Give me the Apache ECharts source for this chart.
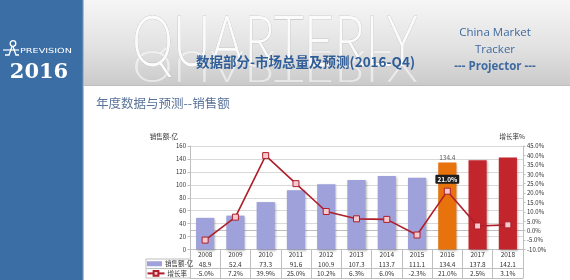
<!DOCTYPE html>
<html>
<head>
<meta charset="utf-8">
<script src="https://cdn.jsdelivr.net/npm/echarts@6/dist/echarts.min.js"></script>
<style>
  html, body { margin: 0; padding: 0; background: #ffffff; }
  #c { width: 570px; height: 280px; }
</style>
</head>
<body>
<div id="c"></div>
<script>
// Annual market size (亿) and year-on-year growth (%), 2016 actual, 2017-2018 forecast
const years = ['2008', '2009', '2010', '2011', '2012', '2013', '2014', '2015', '2016', '2017', '2018'];
const sales = [48.9, 52.4, 73.3, 91.6, 100.9, 107.3, 113.7, 111.1, 134.4, 137.8, 142.1];
const growth = [-5.0, 7.2, 39.9, 25.0, 10.2, 6.3, 6.0, -2.3, 21.0, 2.5, 3.1];
const currentYear = '2016';

const salesName = '销售额-亿';
const growthName = '增长率';

const COL_HIST = '#9ea1da';
const COL_CUR = '#e8720c';
const COL_FCST = '#c3252d';
const LINE_COL = '#ae1f2b';
const GRID_COL = '#d9d9d9';
const AXIS_COL = '#bfbfbf';
const FONT = '"Noto Sans CJK SC", "Noto Sans", sans-serif';
const WORD_FONT = 'Lato, "Open Sans", sans-serif';

const curIdx = years.indexOf(currentYear);

const barData = sales.map((v, i) => {
  const item = { value: v };
  if (i === curIdx) {
    item.itemStyle = { color: COL_CUR };
    item.label = { show: true, position: 'top', distance: 2, fontSize: 6.5, color: '#595959',
      formatter: p => p.value.toFixed(1) };
  } else if (i > curIdx) {
    item.itemStyle = { color: COL_FCST };
  }
  return item;
});

const lineData = growth.map((v, i) => {
  const item = { value: v };
  if (i === curIdx) {
    item.label = { show: true, position: 'top', distance: 4, fontSize: 6.5, fontWeight: 'bold',
      color: '#ffffff', backgroundColor: '#1e1e1e', padding: [1.5, 2, 1, 2], borderRadius: 1,
      formatter: p => p.value.toFixed(1) + '%' };
  }
  return item;
});

const G = { left: 190, right: 47, top: 146, bottom: 30.5 };
const gridBottomY = 280 - G.bottom;
const rowH = 9.5;

// header word geometry
const WORD_SIZE = 71;
const WORD_SX = 0.73;
const REFL_S = 0.6;
const CAP_TOP = 7;        // cap top below the text box top
const CAP_BASE = 48.5;    // baseline below the text box top

const chart = echarts.init(document.getElementById('c'), null, { renderer: 'canvas' });

function tableAxis(offset, values, showLabel) {
  return {
    type: 'category', data: years, position: 'bottom', offset: offset,
    axisLine: { show: true, lineStyle: { color: AXIS_COL, width: 1 } },
    axisTick: { show: false },
    axisLabel: showLabel ? {
      show: true, margin: 2.2, fontSize: 6.5, color: '#333', fontFamily: FONT,
      formatter: (v, i) => values[i]
    } : { show: false },
    splitLine: { show: false }
  };
}

const option = {
  animation: false,
  backgroundColor: '#ffffff',
  textStyle: { fontFamily: FONT },
  grid: { left: G.left, right: G.right, top: G.top, bottom: G.bottom, containLabel: false },
  legend: [
    {
      data: [{ name: salesName, icon: 'rect' }], left: 147, top: gridBottomY + rowH + 1.5,
      itemWidth: 15, itemHeight: 5, itemGap: 2, padding: 0,
      textStyle: { fontSize: 6.5, color: '#333', padding: [0, 0, 0, -2] }
    },
    {
      data: [growthName], left: 146.5, top: gridBottomY + rowH * 2 + 1.5,
      itemWidth: 17, itemHeight: 6, itemGap: 2, padding: 0,
      textStyle: { fontSize: 6.5, color: '#333', padding: [0, 0, 0, -2] }
    }
  ],
  xAxis: [
    {
      type: 'category', data: years, position: 'bottom',
      axisLine: { show: true, lineStyle: { color: AXIS_COL, width: 1 } },
      axisTick: { show: true, alignWithLabel: false, length: rowH * 3, lineStyle: { color: AXIS_COL } },
      axisLabel: { margin: 2.2, fontSize: 6.5, color: '#333' },
      splitLine: { show: false }
    },
    tableAxis(rowH, sales.map(v => v.toFixed(1)), true),
    tableAxis(rowH * 2, growth.map(v => v.toFixed(1) + '%'), true),
    tableAxis(rowH * 3, null, false)
  ],
  yAxis: [
    {
      type: 'value', min: 0, max: 160, interval: 20, position: 'left',
      name: salesName, nameLocation: 'end', nameGap: 6,
      nameTextStyle: { fontSize: 6.5, color: '#333', align: 'right', padding: [0, 12, 0, 0] },
      axisLine: { show: true, lineStyle: { color: AXIS_COL } },
      axisTick: { show: true, length: 2.5, lineStyle: { color: AXIS_COL } },
      axisLabel: { fontSize: 6, color: '#333', margin: 4 },
      splitLine: { show: true, lineStyle: { color: GRID_COL, width: 1 } }
    },
    {
      type: 'value', min: -10, max: 45, interval: 5, position: 'right',
      name: '增长率%', nameLocation: 'end', nameGap: 6,
      nameTextStyle: { fontSize: 6.5, color: '#333', align: 'right', padding: [0, -2, 0, 0] },
      axisLine: { show: true, lineStyle: { color: AXIS_COL } },
      axisTick: { show: true, length: 2.5, lineStyle: { color: AXIS_COL } },
      axisLabel: { fontSize: 6, color: '#333', margin: 4, formatter: v => v.toFixed(1) + '%' },
      splitLine: { show: false }
    }
  ],
  series: [
    {
      name: salesName, type: 'bar', xAxisIndex: 0, yAxisIndex: 0, data: barData,
      barWidth: '60%',
      itemStyle: { color: COL_HIST, shadowBlur: 2, shadowOffsetX: 1, shadowOffsetY: 1, shadowColor: 'rgba(0,0,0,0.25)' },
      z: 2
    },
    {
      name: growthName, type: 'line', xAxisIndex: 0, yAxisIndex: 1, data: lineData,
      symbol: 'rect', symbolSize: 6,
      lineStyle: { color: LINE_COL, width: 1.6 },
      itemStyle: { color: '#f6c9cf', borderColor: LINE_COL, borderWidth: 1 },
      z: 3
    }
  ],
  graphic: [
    // left band
    { type: 'rect', left: 0, top: 0, shape: { width: 83, height: 280 }, style: { fill: '#3c6ea6' }, z: -10 },
    { type: 'rect', left: 82, top: 0, shape: { width: 1.5, height: 280 }, style: { fill: '#5b84b3' }, z: -9 },
    // header band
    {
      type: 'rect', left: 83.5, top: 0, shape: { width: 487, height: 86 }, z: -10,
      style: { fill: new echarts.graphic.LinearGradient(0, 0, 0, 1, [
        { offset: 0, color: '#f6f6f6' }, { offset: 0.55, color: '#e2e2e2' }, { offset: 1, color: '#cacaca' }
      ]) }
    },
    { type: 'rect', left: 83.5, top: 85, shape: { width: 487, height: 1 }, style: { fill: '#bdbdbd' }, z: -9 },
    // big word and its reflection
    {
      type: 'text', x: 132, y: 15 - CAP_TOP, z: -5, scaleX: WORD_SX,
      style: { text: 'QUARTERLY', fontSize: WORD_SIZE, fontFamily: WORD_FONT, fontWeight: 300,
        fill: '#fbfbfb', stroke: '#b3b3b3', lineWidth: 0.6, verticalAlign: 'top' }
    },
    {
      type: 'text', x: 132, y: 57 + REFL_S * CAP_BASE, z: -6, scaleX: WORD_SX, scaleY: -REFL_S,
      style: { text: 'QUARTERLY', fontSize: WORD_SIZE, fontFamily: WORD_FONT, fontWeight: 300,
        fill: 'rgba(255,255,255,0.55)', stroke: 'rgba(170,170,170,0.22)', lineWidth: 0.6, verticalAlign: 'top' }
    },
    {
      type: 'text', x: 415, y: 62, z: -4,
      style: { text: '数据部分-市场总量及预测(2016-Q4)', fontSize: 13.5, fontWeight: 'bold', fontFamily: FONT,
        fill: '#2f5d97', align: 'right', verticalAlign: 'middle' }
    },
    {
      type: 'text', x: 495, y: 33, z: -4,
      style: { text: 'China Market', fontSize: 11.5, fontFamily: '"Open Sans", sans-serif', fill: '#3f6aa0',
        align: 'center', verticalAlign: 'middle' }
    },
    {
      type: 'text', x: 495, y: 50, z: -4,
      style: { text: 'Tracker', fontSize: 11.5, fontFamily: '"Open Sans", sans-serif', fill: '#3f6aa0',
        align: 'center', verticalAlign: 'middle' }
    },
    {
      type: 'text', x: 495, y: 67, z: -4,
      style: { text: '--- Projector ---', fontSize: 11.5, fontWeight: 'bold', fontFamily: '"Open Sans", sans-serif', fill: '#3f6aa0',
        align: 'center', verticalAlign: 'middle' }
    },
    // logo
    {
      type: 'group', x: 3, y: 40, z: -3,
      children: [
        { type: 'circle', shape: { cx: 10, cy: 3.5, r: 2.8 }, style: { fill: 'none', stroke: '#ffffff', lineWidth: 1.3 } },
        { type: 'polyline', shape: { points: [[9, 6.5], [6, 15], [2, 15]] }, style: { fill: 'none', stroke: '#ffffff', lineWidth: 1.3 } },
        { type: 'polyline', shape: { points: [[10, 6.5], [13, 15], [16, 15]] }, style: { fill: 'none', stroke: '#ffffff', lineWidth: 1.3 } },
        { type: 'line', shape: { x1: 0, y1: 10, x2: 16, y2: 10 }, style: { stroke: '#ffffff', lineWidth: 1.2 } }
      ]
    },
    {
      type: 'text', x: 20, y: 51, z: -3, scaleX: 1.38,
      style: { text: 'PREVISION', fontSize: 7, fontFamily: '"DejaVu Sans", sans-serif', fill: '#ffffff',
        verticalAlign: 'middle' }
    },
    {
      type: 'text', x: 39, y: 73, z: -3,
      style: { text: '2016', fontSize: 21, fontWeight: 'bold', fontFamily: '"DejaVu Serif", serif', fill: '#ffffff',
        align: 'center', verticalAlign: 'middle' }
    },
    // section title
    {
      type: 'text', x: 96, y: 103, z: -3,
      style: { text: '年度数据与预测--销售额', fontSize: 12.5, fontFamily: FONT, fill: '#5a7399',
        verticalAlign: 'middle' }
    },
    // legend column of the data table
    { type: 'line', shape: { x1: 146, y1: gridBottomY + rowH, x2: G.left, y2: gridBottomY + rowH }, style: { stroke: AXIS_COL, lineWidth: 1 } },
    { type: 'line', shape: { x1: 146, y1: gridBottomY + rowH * 2, x2: G.left, y2: gridBottomY + rowH * 2 }, style: { stroke: AXIS_COL, lineWidth: 1 } },
    { type: 'line', shape: { x1: 146, y1: gridBottomY + rowH * 3, x2: G.left, y2: gridBottomY + rowH * 3 }, style: { stroke: AXIS_COL, lineWidth: 1 } },
    { type: 'line', shape: { x1: 146, y1: gridBottomY + rowH, x2: 146, y2: gridBottomY + rowH * 3 }, style: { stroke: AXIS_COL, lineWidth: 1 } }
  ]
};

chart.setOption(option);
</script>
</body>
</html>
